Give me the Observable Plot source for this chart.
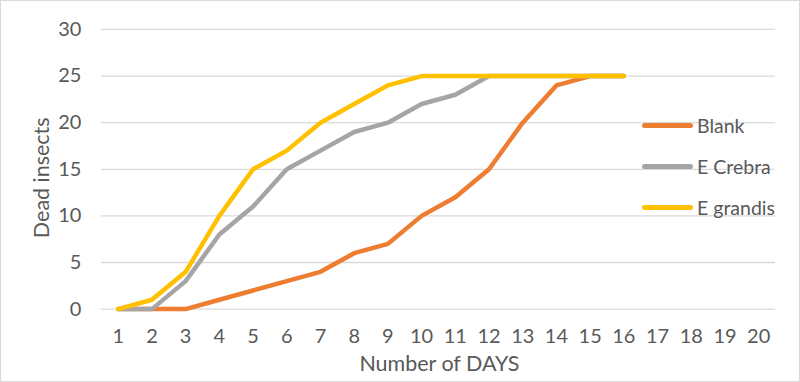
<!DOCTYPE html>
<html>
<head>
<meta charset="utf-8">
<script src="https://cdn.jsdelivr.net/npm/d3@7"></script>
<script src="https://cdn.jsdelivr.net/npm/@observablehq/plot@0.6"></script>
<style>
  html, body { margin: 0; padding: 0; background: #fff; }
  #wrap { position: relative; width: 800px; height: 382px; box-sizing: border-box; border: 1px solid #d9d9d9; overflow: hidden; font-family: Lato, "Open Sans", sans-serif; color: #595959; }
  #chart { position: absolute; left: -1px; top: -1px; }
  .legend { position: absolute; left: 641px; top: 104px; font-size: 19.5px; }
  .legend .item { display: flex; align-items: center; height: 41px; }
  .legend .sw { width: 51px; height: 5px; border-radius: 3px; margin-right: 4px; }
</style>
</head>
<body>
<div id="wrap"><div id="chart"></div><div class="legend" id="legend"></div></div>
<script>
const days = d3.range(1, 21);
const seriesNames = ["Blank", "E Crebra", "E grandis"];
const seriesColors = ["#ED7D31", "#A5A5A5", "#FFC000"];
const blank    = [0, 0, 0, 1, 2, 3, 4, 6, 7, 10, 12, 15, 20, 24, 25, 25];
const eCrebra  = [0, 0, 3, 8, 11, 15, 17, 19, 20, 22, 23, 25, 25, 25, 25, 25];
const eGrandis = [0, 1, 4, 10, 15, 17, 20, 22, 24, 25, 25, 25, 25, 25, 25, 25];
const yTicks = [0, 5, 10, 15, 20, 25, 30];
const xTitle = "Number of DAYS";
const yTitle = "Dead insects";

const rows = [];
[blank, eCrebra, eGrandis].forEach((vals, i) => {
  vals.forEach((v, j) => rows.push({series: seriesNames[i], day: days[j], value: v}));
});

const plot = Plot.plot({
  width: 800,
  height: 382,
  marginLeft: 101,
  marginRight: 24,
  marginTop: 29,
  marginBottom: 73,
  style: {fontFamily: "Lato, 'Open Sans', sans-serif", fontSize: "20px", color: "#595959", background: "transparent"},
  x: {type: "point", domain: days, padding: 0.5, round: false, label: null},
  y: {domain: [0, 30], label: null},
  color: {domain: seriesNames, range: seriesColors},
  marks: [
    Plot.gridY(yTicks, {stroke: "#d9d9d9", strokeOpacity: 1, strokeWidth: 1.3}),
    Plot.axisY({ticks: yTicks, tickSize: 0, tickPadding: 20, fontSize: 20, label: null}),
    Plot.axisX({tickSize: 0, tickPadding: 20, fontSize: 20, label: null}),
    Plot.line(rows, {x: "day", y: "value", z: "series", stroke: "series", strokeWidth: 4.5, strokeLinecap: "round", strokeLinejoin: "round"})
  ]
});
const svg = d3.select(plot);
svg.append("text")
  .attr("transform", "translate(440,364)")
  .attr("text-anchor", "middle").attr("dy", "0.35em")
  .attr("font-size", 21.5).attr("fill", "#595959")
  .text(xTitle);
svg.append("text")
  .attr("transform", "translate(42,178) rotate(-90)")
  .attr("text-anchor", "middle").attr("dy", "0.35em")
  .attr("font-size", 21.5).attr("fill", "#595959")
  .text(yTitle);
document.getElementById("chart").appendChild(plot);

const lg = document.getElementById("legend");
seriesNames.forEach((name, i) => {
  const it = document.createElement("div");
  it.className = "item";
  const sw = document.createElement("div");
  sw.className = "sw";
  sw.style.background = seriesColors[i];
  const t = document.createElement("span");
  t.textContent = name;
  it.appendChild(sw); it.appendChild(t);
  lg.appendChild(it);
});
</script>
</body>
</html>
